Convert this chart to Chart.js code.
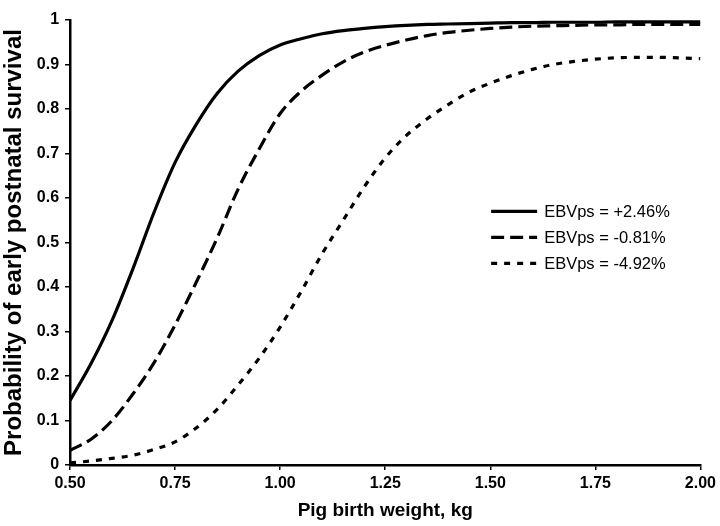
<!DOCTYPE html>
<html>
<head>
<meta charset="utf-8">
<title>Early postnatal survival by birth weight</title>
<script src="https://cdn.jsdelivr.net/npm/chart.js@4.4.0/dist/chart.umd.min.js"></script>
<style>
  html, body { margin: 0; padding: 0; background: #fff; }
  #wrap { width: 720px; height: 526px; }
</style>
</head>
<body>
<div id="wrap"><canvas id="survivalChart" width="720" height="526"></canvas></div>
<script>
// birth weight (kg)
const weights = [0.50, 0.55, 0.60, 0.65, 0.70, 0.75, 0.80, 0.85, 0.90, 0.95,
                 1.00, 1.05, 1.10, 1.15, 1.20, 1.25, 1.30, 1.35, 1.40, 1.45,
                 1.50, 1.55, 1.60, 1.65, 1.70, 1.75, 1.80, 1.85, 1.90, 1.95, 2.00];

// survival probability per sow EBV
const ebvHigh = [0.145, 0.228, 0.325, 0.442, 0.568, 0.680, 0.765, 0.835, 0.885, 0.920,
                 0.944, 0.958, 0.969, 0.976, 0.981, 0.985, 0.988, 0.990, 0.991, 0.992,
                 0.993, 0.994, 0.994, 0.995, 0.995, 0.995, 0.996, 0.996, 0.996, 0.996, 0.996];
const ebvMid  = [0.033, 0.058, 0.100, 0.160, 0.230, 0.315, 0.410, 0.510, 0.620, 0.710,
                 0.790, 0.840, 0.876, 0.906, 0.928, 0.943, 0.955, 0.965, 0.972, 0.977,
                 0.981, 0.984, 0.986, 0.987, 0.988, 0.989, 0.989, 0.990, 0.990, 0.990, 0.990];
const ebvLow  = [0.005, 0.009, 0.015, 0.022, 0.035, 0.052, 0.083, 0.125, 0.180, 0.240,
                 0.310, 0.390, 0.475, 0.550, 0.625, 0.690, 0.740, 0.778, 0.810, 0.838,
                 0.858, 0.875, 0.889, 0.900, 0.907, 0.912, 0.915, 0.916, 0.916, 0.915, 0.913];

const seriesLabels = ['EBVps = +2.46%', 'EBVps = -0.81%', 'EBVps = -4.92%'];
const xTicks = [0.50, 0.75, 1.00, 1.25, 1.50, 1.75, 2.00];

const FONT = '"Liberation Sans", Arial, sans-serif';

function toPoints(ys) {
    return weights.map((w, i) => ({ x: w, y: ys[i] }));
}

// legend sits inside the plot, right of centre
const insideLegend = {
    id: 'insideLegend',
    afterDatasetsDraw(chart) {
        const ctx = chart.ctx;
        const area = chart.chartArea;
        const x0 = area.left + (area.right - area.left) * 0.668;
        const y0 = area.top + (area.bottom - area.top) * 0.43;
        ctx.save();
        ctx.font = '16.5px ' + FONT;
        ctx.textBaseline = 'middle';
        chart.data.datasets.forEach((ds, i) => {
            const y = y0 + i * 26;
            ctx.beginPath();
            ctx.setLineDash(ds.borderDash || []);
            ctx.lineWidth = ds.borderWidth;
            ctx.strokeStyle = ds.borderColor;
            ctx.moveTo(x0, y);
            ctx.lineTo(x0 + 46, y);
            ctx.stroke();
            ctx.setLineDash([]);
            ctx.fillStyle = '#000';
            ctx.fillText(ds.label, x0 + 53, y + 1);
        });
        ctx.restore();
    }
};

const styles = [
    { borderDash: [] },
    { borderDash: [13, 6] },
    { borderDash: [6, 7] }
];

new Chart(document.getElementById('survivalChart').getContext('2d'), {
    type: 'line',
    data: {
        datasets: [ebvHigh, ebvMid, ebvLow].map((ys, i) => ({
            label: seriesLabels[i],
            data: toPoints(ys),
            borderColor: '#000',
            borderWidth: 3.2,
            borderDash: styles[i].borderDash,
            pointRadius: 0,
            cubicInterpolationMode: 'monotone',
            fill: false
        }))
    },
    options: {
        responsive: false,
        animation: false,
        layout: { padding: { top: 20, right: 1, left: 0, bottom: 4 } },
        plugins: {
            legend: { display: false },
            tooltip: { enabled: false }
        },
        scales: {
            x: {
                type: 'linear',
                min: 0.5,
                max: 2.0,
                afterBuildTicks(axis) {
                    axis.ticks = xTicks.map(v => ({ value: v }));
                },
                ticks: {
                    color: '#000',
                    font: { family: FONT, size: 16, weight: 'bold' },
                    padding: 4,
                    maxRotation: 0,
                    callback: v => Number(v).toFixed(2)
                },
                grid: {
                    drawOnChartArea: false,
                    drawTicks: true,
                    tickLength: 5,
                    color: '#000',
                    lineWidth: 1.5
                },
                border: { display: true, color: '#000', width: 2.5 },
                title: {
                    display: true,
                    text: 'Pig birth weight, kg',
                    color: '#000',
                    font: { family: FONT, size: 19, weight: 'bold' },
                    padding: { top: 2, bottom: 0 }
                }
            },
            y: {
                min: 0,
                max: 1,
                ticks: {
                    stepSize: 0.1,
                    color: '#000',
                    font: { family: FONT, size: 16, weight: 'bold' },
                    padding: 6,
                    callback: v => String(Number(Number(v).toFixed(1)))
                },
                grid: {
                    drawOnChartArea: false,
                    drawTicks: true,
                    tickLength: 5,
                    color: '#000',
                    lineWidth: 1.5
                },
                border: { display: true, color: '#000', width: 2.5 },
                title: {
                    display: true,
                    text: 'Probability of early postnatal survival',
                    color: '#000',
                    font: { family: FONT, size: 24, weight: 'bold' },
                    padding: { top: 0, bottom: 2 }
                }
            }
        }
    },
    plugins: [insideLegend]
});
</script>
</body>
</html>
